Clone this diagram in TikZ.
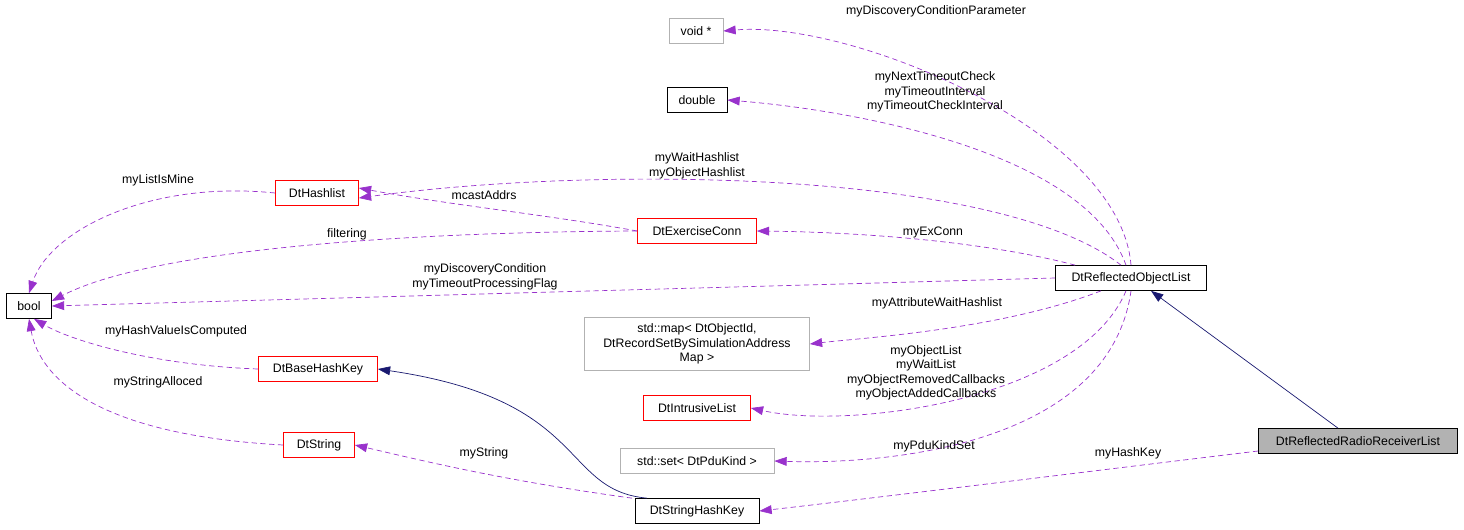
\documentclass[tikz,border=0pt]{standalone}
\usepackage{fontspec}
\setmainfont{Liberation Sans}
\usetikzlibrary{arrows.meta}
\definecolor{memb}{RGB}{153,50,204}
\definecolor{base}{RGB}{25,25,112}
\begin{document}
\begin{tikzpicture}[
  x=0.02cm, y=-0.02cm,
  font=\fontsize{7}{8.2}\selectfont,
  cls/.style={rectangle, draw=black, inner sep=1.5pt, minimum height=0.5cm, align=center},
  red/.style={cls, draw=red},
  ext/.style={cls, draw=gray!60},
  use/.style={-{Triangle[length=7pt,width=5pt,fill=memb]}, dash pattern=on 3pt off 2pt, draw=memb},
  inh/.style={-{Triangle[length=7pt,width=5pt,fill=base]}, draw=base},
  lbl/.style={align=center, inner sep=0pt}
]
\useasboundingbox (0,0) rectangle (1464,529);
\node[ext, minimum width=1.08cm] (void) at (696,31) {void *};
\node[cls, minimum width=1.2cm] (double) at (697,100) {double};
\node[red, minimum width=1.66cm] (hashlist) at (317,193) {DtHashlist};
\node[red, minimum width=2.38cm] (exconn) at (697,231) {DtExerciseConn};
\node[cls, minimum width=0.9cm] (bool) at (29,306) {bool};
\node[cls, minimum width=3.02cm] (rol) at (1131,278) {DtReflectedObjectList};
\node[ext, minimum width=4.5cm, minimum height=1.06cm] (map) at (697,344) {std::map\textless{} DtObjectId,\\ DtRecordSetBySimulationAddress\\Map \textgreater{}};
\node[red, minimum width=2.38cm] (basekey) at (318,369) {DtBaseHashKey};
\node[red, minimum width=2.14cm] (intrusive) at (697,408) {DtIntrusiveList};
\node[red, minimum width=1.42cm] (string) at (319,445) {DtString};
\node[ext, minimum width=3.08cm] (set) at (697,461) {std::set\textless{} DtPduKind \textgreater{}};
\node[cls, minimum width=2.48cm] (strkey) at (697,511) {DtStringHashKey};
\node[cls, fill=gray!60, minimum width=3.98cm] (radio) at (1358,441) {DtReflectedRadioReceiverList};

% inheritance
\draw[inh] ([xshift=-0.4cm]radio.north) -- ([xshift=0.4cm]rol.south);
\draw[inh] ([xshift=-1cm]strkey.north) .. controls (560,490) and (590,400) .. (basekey.east);
% members of DtReflectedObjectList
\draw[use] (rol.north) .. controls (1120,130) and (850,20) .. (void.east);
\draw[use] ([xshift=-0.1cm]rol.north) .. controls (1085,150) and (850,110) .. (double.east);
\draw[use] ([xshift=-0.2cm]rol.north) .. controls (1000,170) and (600,165) .. ([yshift=-0.1cm]hashlist.east);
\draw[use] ([xshift=0.4cm]rol.north west) .. controls (980,240) and (850,232) .. (exconn.east);
\draw[use] (rol.west) -- (bool.east);
\draw[use] ([xshift=-0.6cm]rol.south) .. controls (1000,330) and (860,338) .. (map.east);
\draw[use] ([xshift=-0.1cm]rol.south) .. controls (1080,400) and (850,430) .. (intrusive.east);
\draw[use] (rol.south) .. controls (1110,440) and (900,465) .. (set.east);
\draw[use] ([yshift=-0.2cm]radio.west) .. controls (1100,470) and (900,495) .. (strkey.east);
% other members
\draw[use] (hashlist.west) .. controls (150,180) and (50,230) .. (bool.north);
\draw[use] (exconn.west) .. controls (550,215) and (450,205) .. ([yshift=0.1cm]hashlist.east);
\draw[use] (exconn.west) .. controls (400,232) and (150,250) .. ([yshift=0.1cm]bool.east);
\draw[use] (basekey.west) .. controls (150,365) and (70,340) .. ([xshift=0.1cm]bool.south);
\draw[use] (string.west) .. controls (100,435) and (40,380) .. (bool.south);
\draw[use] ([xshift=-1.3cm]strkey.north) .. controls (500,480) and (420,460) .. (string.east);

% labels
\node[lbl] (l1) at (936,11) {myDiscoveryConditionParameter};
\node[lbl] (l2) at (935,92) {myNextTimeoutCheck\\myTimeoutInterval\\myTimeoutCheckInterval};
\node[lbl] (l3) at (697,166) {myWaitHashlist\\myObjectHashlist};
\node[lbl] (l4) at (933,232) {myExConn};
\node[lbl] (l5) at (485,277) {myDiscoveryCondition\\myTimeoutProcessingFlag};
\node[lbl] (l6) at (937,303) {myAttributeWaitHashlist};
\node[lbl] (l7) at (926,373) {myObjectList\\myWaitList\\myObjectRemovedCallbacks\\myObjectAddedCallbacks};
\node[lbl] (l8) at (934,446) {myPduKindSet};
\node[lbl] (l9) at (1128,453) {myHashKey};
\node[lbl] (l10) at (158,180) {myListIsMine};
\node[lbl] (l11) at (484,195) {mcastAddrs};
\node[lbl] (l12) at (347,234) {filtering};
\node[lbl] (l13) at (176,331) {myHashValueIsComputed};
\node[lbl] (l14) at (158,382) {myStringAlloced};
\node[lbl] (l15) at (484,453) {myString};
\end{tikzpicture}
\end{document}
